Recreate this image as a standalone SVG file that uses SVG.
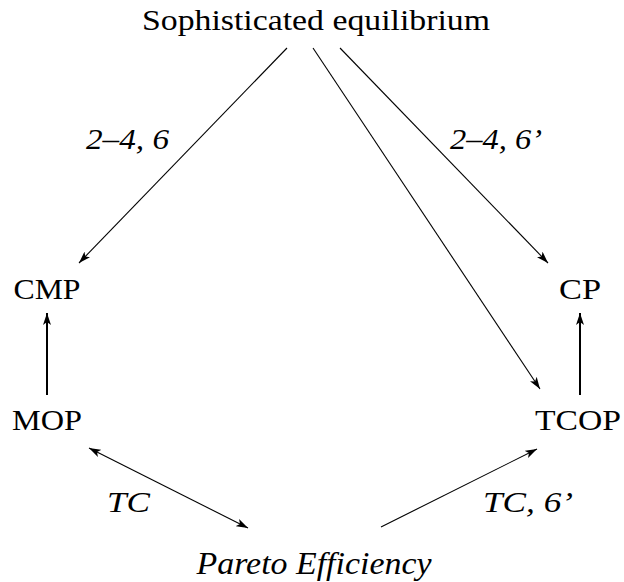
<svg xmlns="http://www.w3.org/2000/svg" width="624" height="582" viewBox="0 0 624 582">
<defs>
<marker id="ah" viewBox="0 0 12 8" refX="12" refY="4" markerWidth="12" markerHeight="8" markerUnits="userSpaceOnUse" orient="auto-start-reverse">
<path d="M0,0 L12,4 L0,8 L3,4 Z" fill="#000"/>
</marker>
</defs>
<style>
.thin{stroke:#000;stroke-width:1.1;fill:none}
.thick{stroke:#000;stroke-width:2;fill:none}
</style>
<rect width="624" height="582" fill="#fff"/>
<g id="connectors">
<line class="thin" x1="287" y1="48" x2="79" y2="263" marker-end="url(#ah)"/>
<line class="thin" x1="313" y1="48" x2="540" y2="389" marker-end="url(#ah)"/>
<line class="thin" x1="340" y1="48" x2="548" y2="263" marker-end="url(#ah)"/>
<line class="thick" x1="47" y1="395" x2="47" y2="313" marker-end="url(#ah)"/>
<line class="thick" x1="580" y1="395" x2="580" y2="313" marker-end="url(#ah)"/>
<line class="thin" x1="89" y1="448" x2="248" y2="528" marker-start="url(#ah)" marker-end="url(#ah)"/>
<line class="thin" x1="381" y1="527" x2="537" y2="449" marker-end="url(#ah)"/>
<g font-family="Liberation Serif, serif" font-size="30" font-style="italic" fill="#000">
<text x="86" y="149" textLength="83" lengthAdjust="spacingAndGlyphs">2–4,  6</text>
<text x="450" y="149" textLength="92" lengthAdjust="spacingAndGlyphs">2–4,  6’</text>
<text x="107" y="512" textLength="43" lengthAdjust="spacingAndGlyphs">TC</text>
<text x="483" y="512" textLength="90" lengthAdjust="spacingAndGlyphs">TC,  6’</text>
</g>
</g>
<g font-family="Liberation Serif, serif" font-size="30" fill="#000">
<g id="n-soph"><text x="316" y="30" text-anchor="middle" textLength="348" lengthAdjust="spacingAndGlyphs">Sophisticated equilibrium</text></g>
<g id="n-cmp"><text x="47" y="299" text-anchor="middle" textLength="67" lengthAdjust="spacingAndGlyphs">CMP</text></g>
<g id="n-cp"><text x="580" y="299" text-anchor="middle" textLength="42" lengthAdjust="spacingAndGlyphs">CP</text></g>
<g id="n-mop"><text x="47" y="430" text-anchor="middle" textLength="70" lengthAdjust="spacingAndGlyphs">MOP</text></g>
<g id="n-tcop"><text x="578" y="430" text-anchor="middle" textLength="86" lengthAdjust="spacingAndGlyphs">TCOP</text></g>
<g id="n-pareto"><text x="314" y="574" text-anchor="middle" font-style="italic" font-size="31" textLength="235" lengthAdjust="spacingAndGlyphs">Pareto Efficiency</text></g>
</g>
</svg>
